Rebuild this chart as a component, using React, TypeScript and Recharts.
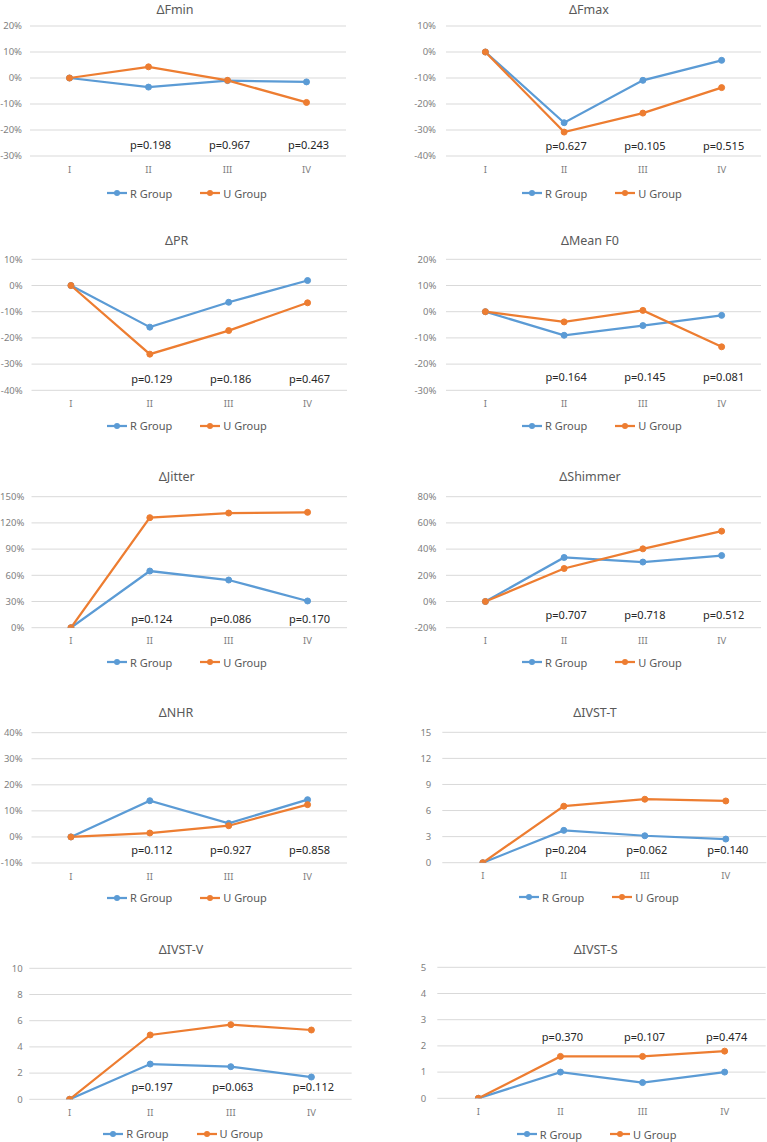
import React from "react";
import {
  LineChart,
  Line,
  XAxis,
  YAxis,
  CartesianGrid,
  Legend,
  ReferenceDot,
} from "recharts";

const stages = ["I", "II", "III", "IV"];

const fminR = [0, -3.5, -1.0, -1.5];
const fminU = [0, 4.3, -0.9, -9.4];
const fminP = ["p=0.198", "p=0.967", "p=0.243"];
const fminTicks = [-30, -20, -10, 0, 10, 20];

const fmaxR = [0, -27.2, -10.9, -3.2];
const fmaxU = [0, -30.8, -23.5, -13.7];
const fmaxP = ["p=0.627", "p=0.105", "p=0.515"];
const fmaxTicks = [-40, -30, -20, -10, 0, 10];

const prR = [0, -15.9, -6.4, 1.9];
const prU = [0, -26.2, -17.2, -6.6];
const prP = ["p=0.129", "p=0.186", "p=0.467"];
const prTicks = [-40, -30, -20, -10, 0, 10];

const meanF0R = [0, -9.0, -5.3, -1.4];
const meanF0U = [0, -3.9, 0.5, -13.4];
const meanF0P = ["p=0.164", "p=0.145", "p=0.081"];
const meanF0Ticks = [-30, -20, -10, 0, 10, 20];

const jitterR = [0, 64.9, 54.6, 30.6];
const jitterU = [0, 126, 131.3, 132.1];
const jitterP = ["p=0.124", "p=0.086", "p=0.170"];
const jitterTicks = [0, 30, 60, 90, 120, 150];

const shimmerR = [0, 33.6, 30.1, 35.1];
const shimmerU = [0, 25.2, 40.2, 53.7];
const shimmerP = ["p=0.707", "p=0.718", "p=0.512"];
const shimmerTicks = [-20, 0, 20, 40, 60, 80];

const nhrR = [0, 13.9, 5.2, 14.3];
const nhrU = [0, 1.5, 4.3, 12.4];
const nhrP = ["p=0.112", "p=0.927", "p=0.858"];
const nhrTicks = [-10, 0, 10, 20, 30, 40];

const ivstTR = [0, 3.72, 3.1, 2.72];
const ivstTU = [0, 6.5, 7.3, 7.1];
const ivstTP = ["p=0.204", "p=0.062", "p=0.140"];
const ivstTTicks = [0, 3, 6, 9, 12, 15];

const ivstVR = [0, 2.69, 2.49, 1.7];
const ivstVU = [0, 4.91, 5.7, 5.29];
const ivstVP = ["p=0.197", "p=0.063", "p=0.112"];
const ivstVTicks = [0, 2, 4, 6, 8, 10];

const ivstSR = [0, 1.0, 0.6, 1.0];
const ivstSU = [0, 1.6, 1.6, 1.8];
const ivstSP = ["p=0.370", "p=0.107", "p=0.474"];
const ivstSTicks = [0, 1, 2, 3, 4, 5];

const BLUE = "#5B9BD5";
const ORANGE = "#ED7D31";
const rowTops = [0, 230, 460, 690, 920];

// layout of each small chart (pixel positions inside its cell)
const panels = [
  { title: "ΔFmin", r: fminR, u: fminU, p: fminP, ticks: fminTicks, pct: true, pAt: -25.8,
    col: 0, row: 0, plotL: 30, plotR: 346, top: 26, bottom: 156, tickR: 22, titleX: 175, titleY: 6, legendX: 107, legendY: 193 },
  { title: "ΔFmax", r: fmaxR, u: fmaxU, p: fmaxP, ticks: fmaxTicks, pct: true, pAt: -36.2,
    col: 1, row: 0, plotL: 62, plotR: 377, top: 26, bottom: 156, tickR: 52, titleX: 205, titleY: 6, legendX: 138, legendY: 193 },
  { title: "ΔPR", r: prR, u: prU, p: prP, ticks: prTicks, pct: true, pAt: -35.9,
    col: 0, row: 1, plotL: 31.5, plotR: 347, top: 29.3, bottom: 160.3, tickR: 22.7, titleX: 176.7, titleY: 10, legendX: 107, legendY: 195.7 },
  { title: "ΔMean F0", r: meanF0R, u: meanF0U, p: meanF0P, ticks: meanF0Ticks, pct: true, pAt: -24.8,
    col: 1, row: 1, plotL: 62, plotR: 377, top: 29.3, bottom: 160.3, tickR: 52.3, titleX: 206, titleY: 10, legendX: 138, legendY: 195.7 },
  { title: "ΔJitter", r: jitterR, u: jitterU, p: jitterP, ticks: jitterTicks, pct: true, pAt: 10.3,
    col: 0, row: 2, plotL: 31.5, plotR: 347, top: 36.7, bottom: 167.7, tickR: 24.3, titleX: 176.7, titleY: 16, legendX: 107, legendY: 202.3 },
  { title: "ΔShimmer", r: shimmerR, u: shimmerU, p: shimmerP, ticks: shimmerTicks, pct: true, pAt: -10.7,
    col: 1, row: 2, plotL: 62, plotR: 377, top: 36.7, bottom: 167.7, tickR: 52.3, titleX: 206, titleY: 16, legendX: 138, legendY: 202.3 },
  { title: "ΔNHR", r: nhrR, u: nhrU, p: nhrP, ticks: nhrTicks, pct: true, pAt: -5.0,
    col: 0, row: 3, plotL: 31.5, plotR: 347, top: 42.7, bottom: 173, tickR: 22.7, titleX: 176, titleY: 22.7, legendX: 107, legendY: 207.7 },
  { title: "ΔIVST-T", r: ivstTR, u: ivstTU, p: ivstTP, ticks: ivstTTicks, pct: false, pAt: 1.46,
    col: 1, row: 3, plotL: 58.3, plotR: 382.3, top: 42.3, bottom: 172.7, tickR: 47.3, titleX: 211, titleY: 22.7, legendX: 135, legendY: 207 },
  { title: "ΔIVST-V", r: ivstVR, u: ivstVU, p: ivstVP, ticks: ivstVTicks, pct: false, pAt: 0.96,
    col: 0, row: 4, plotL: 29.3, plotR: 351.7, top: 48.3, bottom: 179.3, tickR: 22.7, titleX: 181, titleY: 29.3, legendX: 103.3, legendY: 213.7 },
  { title: "ΔIVST-S", r: ivstSR, u: ivstSU, p: ivstSP, ticks: ivstSTicks, pct: false, pAt: 2.35,
    col: 1, row: 4, plotL: 53.3, plotR: 381.7, top: 47.3, bottom: 178.3, tickR: 42.3, titleX: 211.7, titleY: 29.3, legendX: 132.7, legendY: 214.3 },
];

const renderLegend = (props: any) => {
  const items = props.payload || [];
  return (
    <div style={{ display: "flex", alignItems: "center", height: 16, fontSize: 11, color: "#595959", whiteSpace: "nowrap" }}>
      {items.map((item: any, i: number) => (
        <span key={i} style={{ display: "flex", alignItems: "center", marginRight: 28 }}>
          <svg width={20} height={8}>
            <line x1={0} y1={4} x2={20} y2={4} stroke={item.color} strokeWidth={2.25} />
            <circle cx={10} cy={4} r={3} fill={item.color} />
          </svg>
          <span style={{ marginLeft: 3 }}>{item.value}</span>
        </span>
      ))}
    </div>
  );
};

function Panel({ cfg }: { cfg: any }) {
  const width = cfg.col === 0 ? 384 : 383;
  const height = cfg.row === 4 ? 222 : 230;
  const data = stages.map((s, i) => ({ stage: s, r: cfg.r[i], u: cfg.u[i] }));
  const pad = (cfg.plotR - cfg.plotL) / 8;
  const fmt = (v: number) => (cfg.pct ? `${v}%` : `${v}`);
  const domain = [cfg.ticks[0], cfg.ticks[cfg.ticks.length - 1]];

  return (
    <div style={{ position: "absolute", left: cfg.col === 0 ? 0 : 384, top: rowTops[cfg.row], width, height }}>
      <div
        style={{
          position: "absolute",
          left: cfg.titleX - 60,
          width: 120,
          top: Math.max(cfg.titleY - 8.5, 1),
          lineHeight: "17px",
          textAlign: "center",
          fontSize: 12.5,
          color: "#595959",
        }}
      >
        {cfg.title}
      </div>
      <LineChart
        width={width}
        height={height}
        data={data}
        margin={{ top: cfg.top, right: width - cfg.plotR, bottom: height - cfg.bottom - 30, left: 0 }}
      >
        <CartesianGrid vertical={false} stroke="#d9d9d9" />
        <XAxis
          dataKey="stage"
          scale="point"
          padding={{ left: pad, right: pad }}
          axisLine={false}
          tickLine={false}
          tickSize={0}
          tickMargin={10}
          height={30}
          interval={0}
          tick={{ fill: "#7f7f7f", fontSize: 9.5 }}
        />
        <YAxis
          type="number"
          width={cfg.plotL}
          domain={domain}
          ticks={cfg.ticks}
          interval={0}
          allowDataOverflow
          axisLine={false}
          tickLine={false}
          tickSize={0}
          tickMargin={cfg.plotL - cfg.tickR}
          tickFormatter={fmt}
          tick={{ fill: "#7f7f7f", fontSize: 9.5 }}
        />
        <Legend
          layout="horizontal"
          align="center"
          verticalAlign="middle"
          wrapperStyle={{ top: cfg.legendY - 8, left: cfg.legendX, width: 220, height: 16 }}
          content={renderLegend}
        />
        <Line
          dataKey="r"
          name="R Group"
          stroke={BLUE}
          strokeWidth={2.25}
          dot={{ r: 3, fill: BLUE, stroke: BLUE, strokeWidth: 1 }}
          activeDot={false}
          isAnimationActive={false}
        />
        <Line
          dataKey="u"
          name="U Group"
          stroke={ORANGE}
          strokeWidth={2.25}
          dot={{ r: 3, fill: ORANGE, stroke: ORANGE, strokeWidth: 1 }}
          activeDot={false}
          isAnimationActive={false}
        />
        {cfg.p.map((txt: string, i: number) => (
          <ReferenceDot
            key={txt + i}
            x={stages[i + 1]}
            y={cfg.pAt}
            r={0}
            fill="none"
            stroke="none"
            label={{ value: txt, position: "center", fill: "#262626", fontSize: 11, dx: 2 }}
          />
        ))}
      </LineChart>
    </div>
  );
}

export default function App() {
  return (
    <div
      style={{
        position: "absolute",
        left: 0,
        top: 0,
        width: 767,
        height: 1142,
        background: "#fff",
        fontFamily: "'Noto Sans', sans-serif",
        overflow: "hidden",
      }}
    >
      {panels.map((cfg) => (
        <Panel key={cfg.title} cfg={cfg} />
      ))}
    </div>
  );
}
